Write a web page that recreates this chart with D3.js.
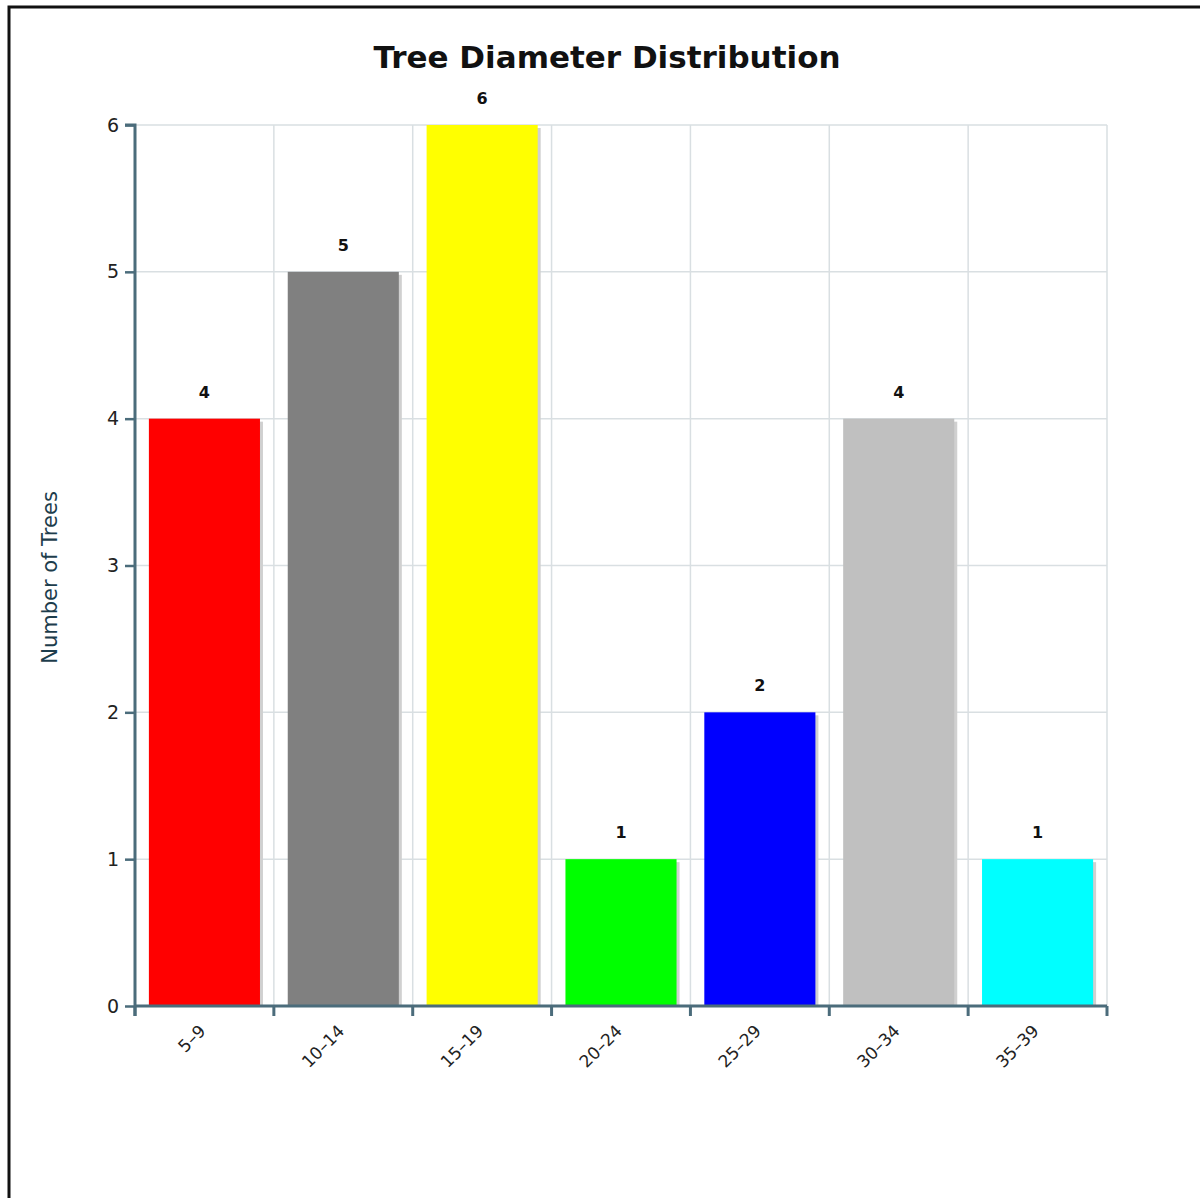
<!DOCTYPE html>
<html>
<head>
<meta charset="utf-8">
<script src="https://cdn.jsdelivr.net/npm/d3@7"></script>
<style>
  html, body { margin: 0; padding: 0; background: #fff; }
  svg { display: block; }
</style>
</head>
<body>
<svg id="chart" width="1200" height="1198"></svg>
<script>
// Diameter classes (cm) and tree counts per class
const categories = ["5–9", "10–14", "15–19", "20–24", "25–29", "30–34", "35–39"];
const counts = [4, 5, 6, 1, 2, 4, 1];
const barColors = ["#ff0000", "#808080", "#ffff00", "#00ff00", "#0000ff", "#c0c0c0", "#00ffff"];
const yTicks = [0, 1, 2, 3, 4, 5, 6];

const svg = d3.select("#chart");
const W = 1200, H = 1198;
const plot = { left: 135, right: 1107, top: 125, bottom: 1006 };
const axisColor = "#4b6c7b";
const gridColor = "#d9dfe2";
const font = "'DejaVu Sans', Verdana, sans-serif";

// Frame around the whole chart
svg.append("rect")
  .attr("x", 9).attr("y", 7)
  .attr("width", W + 10).attr("height", H + 10)
  .attr("fill", "none").attr("stroke", "#111").attr("stroke-width", 3);

const xOuter = d3.scaleBand().domain(categories).range([plot.left, plot.right]).padding(0);
const x = d3.scaleBand().domain(categories).range([plot.left, plot.right])
  .paddingInner(0.2).paddingOuter(0.1);
const y = d3.scaleLinear().domain([0, 6]).range([plot.bottom, plot.top]);

const boundaries = categories.map(c => xOuter(c)).concat([xOuter(categories[categories.length - 1]) + xOuter.step()]);

// Grid
const grid = svg.append("g");
grid.selectAll("line.h").data(yTicks).join("line")
  .attr("x1", plot.left).attr("x2", plot.right)
  .attr("y1", d => y(d)).attr("y2", d => y(d))
  .attr("stroke", gridColor).attr("stroke-width", 1.5);
grid.selectAll("line.v").data(boundaries).join("line")
  .attr("x1", d => d).attr("x2", d => d)
  .attr("y1", plot.top).attr("y2", plot.bottom)
  .attr("stroke", gridColor).attr("stroke-width", 1.5);

// Bars with a soft drop shadow
const bars = svg.append("g");
bars.selectAll("rect.shadow").data(counts).join("rect")
  .attr("class", "shadow")
  .attr("x", (d, i) => x(categories[i]) + 3)
  .attr("y", d => y(d) + 3)
  .attr("width", x.bandwidth())
  .attr("height", d => plot.bottom - y(d) - 2)
  .attr("fill", "#d0d0d0");
bars.selectAll("rect.bar").data(counts).join("rect")
  .attr("class", "bar")
  .attr("x", (d, i) => x(categories[i]))
  .attr("y", d => y(d))
  .attr("width", x.bandwidth())
  .attr("height", d => plot.bottom - y(d))
  .attr("fill", (d, i) => barColors[i]);

// Value labels
svg.append("g").selectAll("text").data(counts).join("text")
  .attr("x", (d, i) => x(categories[i]) + x.bandwidth() / 2)
  .attr("y", d => y(d) - 21)
  .attr("text-anchor", "middle")
  .attr("font-family", font).attr("font-weight", "bold").attr("font-size", 16)
  .attr("fill", "#111")
  .text(d => d);

// Y axis
const yAxis = svg.append("g")
  .attr("transform", `translate(${plot.left},0)`)
  .call(d3.axisLeft(y).tickValues(yTicks).tickFormat(d3.format("d")).tickSize(10).tickPadding(6));
yAxis.select(".domain").attr("stroke", axisColor).attr("stroke-width", 3)
  .attr("d", `M-10,${plot.top}H0V${plot.bottom + 10}`);
yAxis.selectAll(".tick line").attr("stroke", axisColor).attr("stroke-width", 2.5);
yAxis.selectAll(".tick text").attr("font-family", font).attr("font-size", 19).attr("fill", "#222");

// X axis: labels centred on bars, ticks on class boundaries
const xAxis = svg.append("g")
  .attr("transform", `translate(0,${plot.bottom})`)
  .call(d3.axisBottom(x).tickSize(0));
xAxis.select(".domain").attr("stroke", axisColor).attr("stroke-width", 3)
  .attr("d", `M${plot.left},0H${plot.right}`);
xAxis.selectAll(".tick text")
  .attr("font-family", font).attr("font-size", 17).attr("fill", "#222")
  .attr("text-anchor", "end")
  .attr("x", 0).attr("y", 0)
  .attr("dx", 0).attr("dy", "0.35em")
  .attr("transform", "translate(-2,22) rotate(-45)");
xAxis.selectAll("line.bound").data(boundaries).join("line")
  .attr("class", "bound")
  .attr("x1", d => d).attr("x2", d => d)
  .attr("y1", 0).attr("y2", 10)
  .attr("stroke", axisColor).attr("stroke-width", 3);

// Axis title
svg.append("text")
  .attr("transform", `translate(57,${(plot.top + plot.bottom) / 2 + 12}) rotate(-90)`)
  .attr("text-anchor", "middle")
  .attr("font-family", font).attr("font-size", 21).attr("fill", "#1d3d4c")
  .text("Number of Trees");

// Chart title
svg.append("text")
  .attr("x", 607).attr("y", 68)
  .attr("text-anchor", "middle")
  .attr("font-family", font).attr("font-weight", "bold").attr("font-size", 31)
  .attr("fill", "#111")
  .text("Tree Diameter Distribution");
</script>
</body>
</html>
